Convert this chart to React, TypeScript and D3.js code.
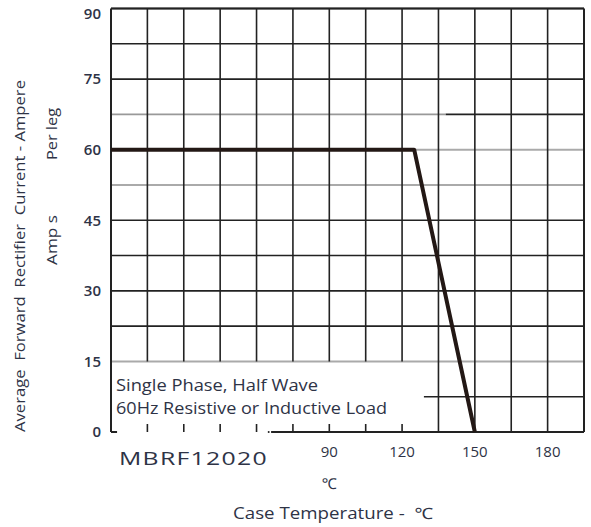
import React from 'react';
import * as d3 from 'd3';

// derating curve
const caseTemp = [0, 125, 150];
const forwardCurrent = [60, 60, 0];

const yTickValues = [0, 15, 30, 45, 60, 75, 90];
const xTickLabels = [90, 120, 150, 180];
const gridStepX = 15;
const gridStepY = 7.5;

const W = 591;
const H = 527;
const ink = '#222';
const textCol = '#2e3346';

export default function App() {
  const x = d3.scaleLinear().domain([0, 195]).range([111, 584]);
  const y = d3.scaleLinear().domain([0, 90]).range([432, 8.5]);

  const xGrid = d3.range(0, 195 + 0.1, gridStepX);
  const yGrid = d3.range(0, 90 + 0.1, gridStepY);

  const line = d3
    .line<number>()
    .x((_, i) => x(caseTemp[i]))
    .y((d) => y(d));

  const boxRight = 135; // note box covers the lower-left corner up to here
  const grayRows = [15, 52.5, 60];

  return (
    <svg
      width={W}
      height={H}
      viewBox={`0 0 ${W} ${H}`}
      style={{ position: 'absolute', left: 0, top: 0, background: '#fff' }}
      fontFamily="'Open Sans', 'Noto Sans', sans-serif"
    >
      {/* horizontal grid */}
      {yGrid.map((v) => {
        if (v === 0) return null;
        if (v === 7.5)
          return <line key={v} x1={x(129)} x2={x(195)} y1={y(v)} y2={y(v)} stroke={ink} strokeWidth={1.6} />;
        if (v === 67.5)
          return (
            <g key={v}>
              <line x1={x(0)} x2={x(138)} y1={y(v)} y2={y(v)} stroke="#999" strokeWidth={1.6} />
              <line x1={x(138)} x2={x(195)} y1={y(v)} y2={y(v)} stroke={ink} strokeWidth={1.6} />
            </g>
          );
        const gray = grayRows.includes(v);
        return (
          <line
            key={v}
            x1={x(0)}
            x2={x(195)}
            y1={y(v)}
            y2={y(v)}
            stroke={gray ? '#aaa' : ink}
            strokeWidth={gray ? 2 : 1.6}
          />
        );
      })}

      {/* vertical grid */}
      {xGrid.map((v) => {
        if (v === 0 || v === 195) return null;
        const inBox = v < boxRight;
        return (
          <g key={v}>
            <line
              x1={x(v)}
              x2={x(v)}
              y1={y(90)}
              y2={inBox ? y(15) : y(0)}
              stroke={ink}
              strokeWidth={1.6}
            />
            {inBox && (
              <line x1={x(v)} x2={x(v)} y1={y(0)} y2={y(0) - 8} stroke={ink} strokeWidth={1.6} />
            )}
          </g>
        );
      })}

      {/* frame */}
      <line x1={x(0)} x2={x(195)} y1={y(90)} y2={y(90)} stroke={ink} strokeWidth={2} />
      <line x1={x(0)} x2={x(0)} y1={y(90)} y2={y(0)} stroke={ink} strokeWidth={2} />
      <line x1={x(195)} x2={x(195)} y1={y(90)} y2={y(0)} stroke={ink} strokeWidth={2} />
      <line x1={x(0)} x2={x(2.5)} y1={y(0)} y2={y(0)} stroke={ink} strokeWidth={2} />
      <line x1={x(66)} x2={x(195)} y1={y(0)} y2={y(0)} stroke={ink} strokeWidth={2} />
      <circle cx={x(65)} cy={y(0)} r={1} fill={ink} />

      {/* curve */}
      <path d={line(forwardCurrent) ?? ''} fill="none" stroke="#231815" strokeWidth={4} strokeLinejoin="round" />

      {/* y tick labels */}
      {yTickValues.map((v) => (
        <text
          key={v}
          x={101}
          y={Math.max(y(v), 14)}
          dy="0.35em"
          textAnchor="end"
          fontSize={15}
          fontWeight={600}
          fill={textCol}
        >
          {v}
        </text>
      ))}

      {/* x tick labels */}
      {xTickLabels.map((v) => (
        <text key={v} x={x(v)} y={457} textAnchor="middle" fontSize={15} fill={textCol}>
          {v}
        </text>
      ))}

      <text
        x={119}
        y={465}
        fontSize={19}
        fill={textCol}
        textLength={149}
        lengthAdjust="spacingAndGlyphs"
        letterSpacing={1}
      >
        MBRF12020
      </text>
      <text x={x(90)} y={489} textAnchor="middle" fontSize={15} fill={textCol}>
        ℃
      </text>
      <text
        x={233}
        y={519}
        fontSize={15.5}
        fill={textCol}
        textLength={200}
        lengthAdjust="spacingAndGlyphs"
        xmlSpace="preserve"
      >
        Case Temperature -  ℃
      </text>

      {/* note */}
      <text x={116} y={391} fontSize={16.5} fill={textCol} textLength={202} lengthAdjust="spacingAndGlyphs">
        Single Phase, Half Wave
      </text>
      <text x={116} y={414} fontSize={16.5} fill={textCol} textLength={271} lengthAdjust="spacingAndGlyphs">
        60Hz Resistive or Inductive Load
      </text>

      {/* y axis titles */}
      <text
        transform="translate(25,256) rotate(-90)"
        textAnchor="middle"
        fontSize={14}
        fill={textCol}
        textLength={352}
        lengthAdjust="spacingAndGlyphs"
        xmlSpace="preserve"
      >
        Average  Forward  Rectifier  Current - Ampere
      </text>
      <text
        transform="translate(57,134) rotate(-90)"
        textAnchor="middle"
        fontSize={15}
        fill={textCol}
        textLength={52}
        lengthAdjust="spacingAndGlyphs"
      >
        Per leg
      </text>
      <text
        transform="translate(57,240) rotate(-90)"
        textAnchor="middle"
        fontSize={15}
        fill={textCol}
        textLength={50}
        lengthAdjust="spacingAndGlyphs"
      >
        Amp s
      </text>
    </svg>
  );
}
